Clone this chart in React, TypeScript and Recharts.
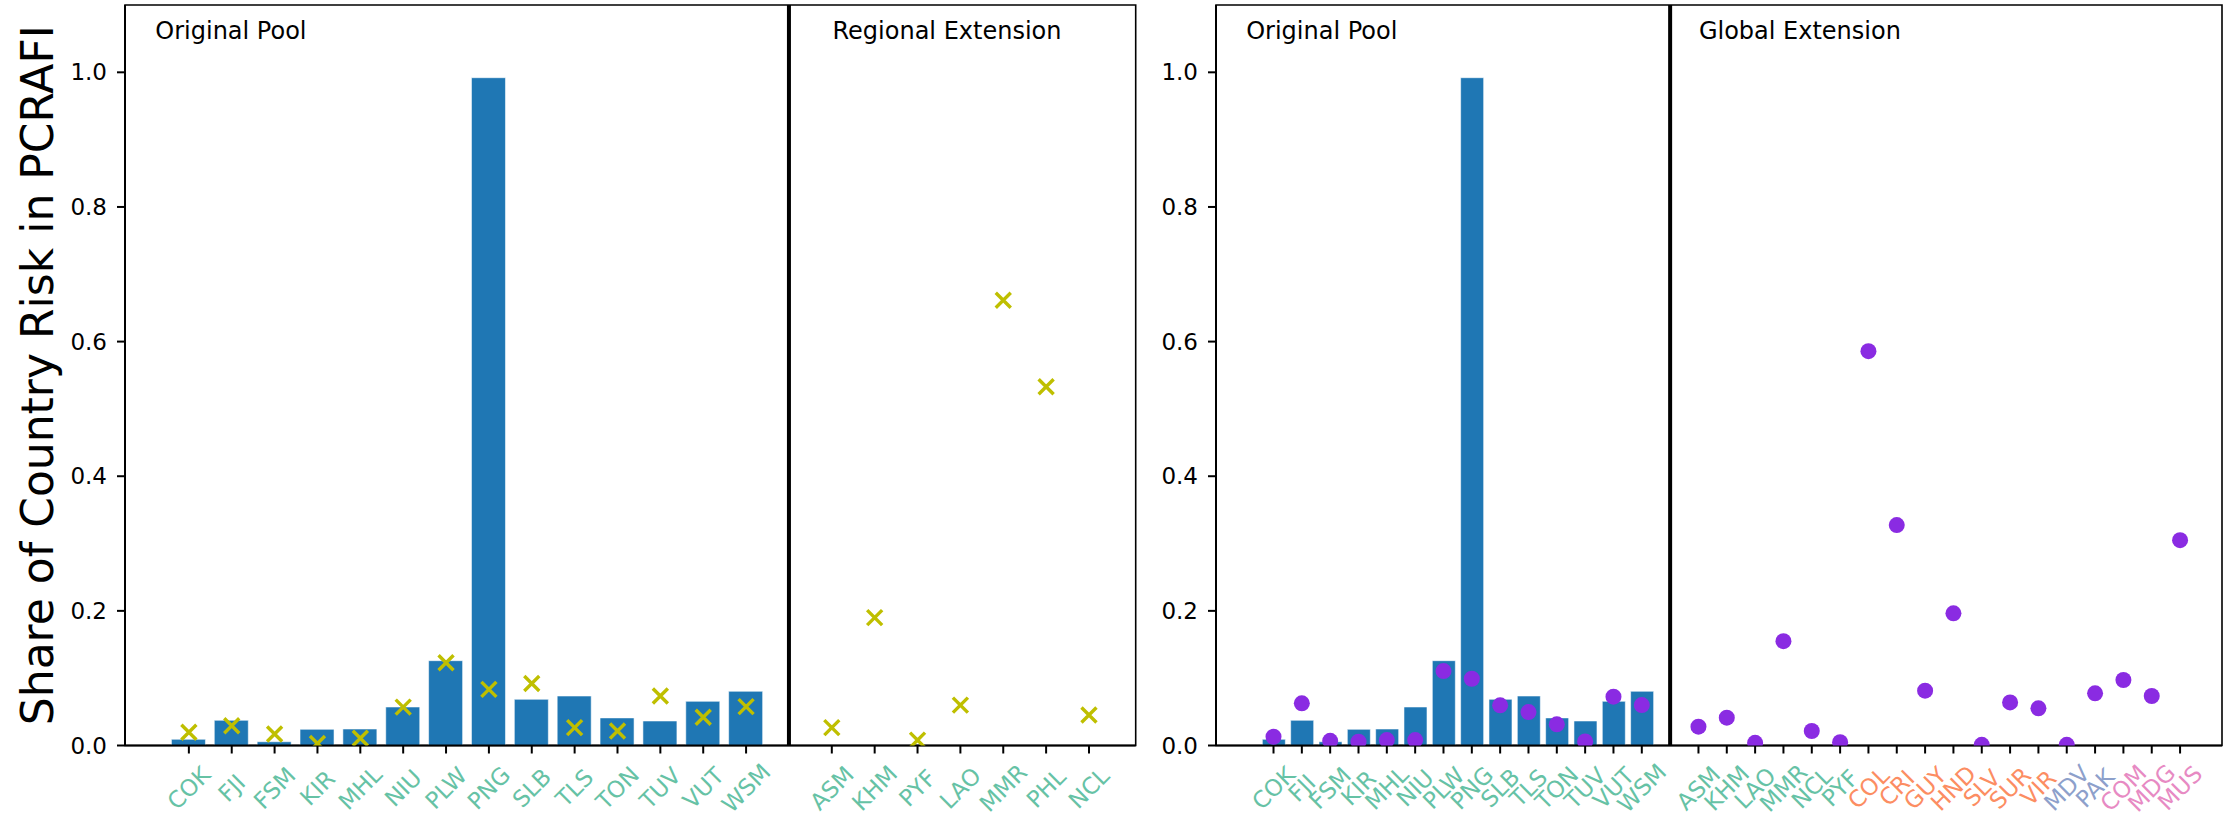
import React from 'react';
import {
  ComposedChart,
  Bar,
  Scatter,
  XAxis,
  YAxis,
  ReferenceLine,
  ReferenceArea,
  ReferenceDot,
} from 'recharts';

// original PCRAFI pool (bars, same in both panels)
const poolNames = ['COK', 'FJI', 'FSM', 'KIR', 'MHL', 'NIU', 'PLW', 'PNG', 'SLB', 'TLS', 'TON', 'TUV', 'VUT', 'WSM'];
const poolShare = [0.0092, 0.0374, 0.0056, 0.024, 0.0245, 0.0572, 0.126, 0.992, 0.0686, 0.0735, 0.041, 0.0364, 0.0656, 0.0805];

// regional extension (crosses)
const regionalPoolShare = [0.0196, 0.0294, 0.017, 0.003, 0.0107, 0.057, 0.123, 0.0834, 0.092, 0.0265, 0.0215, 0.0735, 0.042, 0.0577];
const regionalNames = ['ASM', 'KHM', 'PYF', 'LAO', 'MMR', 'PHL', 'NCL'];
const regionalShare = [0.0265, 0.19, 0.008, 0.06, 0.6615, 0.533, 0.0453];

// global extension (dots)
const globalPoolShare = [0.013, 0.0626, 0.007, 0.0057, 0.008, 0.008, 0.1106, 0.0992, 0.0597, 0.0497, 0.0314, 0.006, 0.0725, 0.06];
const globalNames = ['ASM', 'KHM', 'LAO', 'MMR', 'NCL', 'PYF', 'COL', 'CRI', 'GUY', 'HND', 'SLV', 'SUR', 'VIR', 'MDV', 'PAK', 'COM', 'MDG', 'MUS'];
const globalShare = [0.028, 0.0413, 0.004, 0.155, 0.0215, 0.005, 0.5857, 0.3274, 0.0814, 0.1963, 0.001, 0.064, 0.0552, 0.001, 0.0775, 0.0973, 0.0735, 0.305];
const globalRegion = ['pac', 'pac', 'pac', 'pac', 'pac', 'pac', 'am', 'am', 'am', 'am', 'am', 'am', 'am', 'asia', 'asia', 'af', 'af', 'af'];

const yTicks = [0, 0.2, 0.4, 0.6, 0.8, 1.0];

const regionColor: Record<string, string> = {
  pac: '#66c2a5',
  am: '#fc8d62',
  asia: '#8da0cb',
  af: '#e78ac3',
};

const FONT = 'DejaVu Sans';
const GAP = poolNames.length; // empty slot holding the separator line

function buildPanel(extNames: string[], poolMarks: number[], extMarks: number[], extColors: string[]) {
  const names: Record<number, string> = {};
  const colors: Record<number, string> = {};
  const bars = poolNames.map((n, i) => {
    names[i] = n;
    colors[i] = regionColor.pac;
    return { x: i, share: poolShare[i] };
  });
  const marks = poolMarks.map((v, i) => ({ x: i, share: v }));
  extNames.forEach((n, j) => {
    const x = GAP + 1 + j;
    names[x] = n;
    colors[x] = extColors[j];
    marks.push({ x, share: extMarks[j] });
  });
  const ticks = Object.keys(names).map(Number);
  return { names, colors, bars, marks, ticks };
}

const left = buildPanel(regionalNames, regionalPoolShare, regionalShare, regionalNames.map(() => regionColor.pac));
const right = buildPanel(globalNames, globalPoolShare, globalShare, globalRegion.map((r) => regionColor[r]));

function makeTick(names: Record<number, string>, colors: Record<number, string>) {
  return (props: any) => {
    const { x, y, payload } = props;
    const cy = y + 34.5;
    return (
      <text
        x={x}
        y={cy}
        textAnchor="middle"
        dominantBaseline="central"
        transform={`rotate(-45 ${x} ${cy})`}
        fill={colors[payload.value]}
        fontSize={23}
        fontFamily={FONT}
      >
        {names[payload.value]}
      </text>
    );
  };
}

const Cross = (props: any) => {
  const { cx, cy } = props;
  const s = 7.5;
  return (
    <path
      d={`M${cx - s},${cy - s}L${cx + s},${cy + s}M${cx - s},${cy + s}L${cx + s},${cy - s}`}
      stroke="#bfbf00"
      strokeWidth={3.4}
      fill="none"
    />
  );
};

const Dot = (props: any) => <circle cx={props.cx} cy={props.cy} r={8} fill="#8a2be2" />;

function annot(text: string) {
  return (p: any) => (
    <text x={p.cx} y={p.cy} fontSize={24} fontFamily={FONT} fill="#000">
      {text}
    </text>
  );
}

interface PanelProps {
  panel: typeof left;
  domain: [number, number];
  width: number;
  yWidth: number;
  marginRight: number;
  barSize: number;
  mark: 'cross' | 'dot';
  extLabel: string;
  extFrac: number;
  yLabel?: string;
}

function Panel({ panel, domain, width, yWidth, marginRight, barSize, mark, extLabel, extFrac, yLabel }: PanelProps) {
  const span = domain[1] - domain[0];
  return (
    <ComposedChart
      width={width}
      height={817}
      data={panel.bars}
      margin={{ top: 5, right: marginRight, bottom: 0, left: 0 }}
    >
      <XAxis
        dataKey="x"
        type="number"
        domain={domain}
        allowDataOverflow
        ticks={panel.ticks}
        interval={0}
        height={71.5}
        tickSize={8}
        tickMargin={0}
        tickLine={{ stroke: '#000', strokeWidth: 2 }}
        axisLine={{ stroke: '#000', strokeWidth: 2 }}
        tick={makeTick(panel.names, panel.colors)}
      />
      <YAxis
        type="number"
        domain={[0, 1.1]}
        allowDataOverflow
        ticks={yTicks}
        width={yWidth}
        tickSize={8}
        tickMargin={10}
        tickFormatter={(v: number) => v.toFixed(1)}
        tick={{ fill: '#000', fontSize: 23, fontFamily: FONT }}
        tickLine={{ stroke: '#000', strokeWidth: 2 }}
        axisLine={{ stroke: '#000', strokeWidth: 2 }}
        label={
          yLabel
            ? {
                value: yLabel,
                angle: -90,
                position: 'insideLeft',
                offset: 37,
                style: { textAnchor: 'middle', fontSize: 44, fontFamily: FONT, fill: '#000' },
              }
            : undefined
        }
      />
      <ReferenceArea
        x1={domain[0]}
        x2={domain[1]}
        y1={0}
        y2={1.1}
        fill="none"
        stroke="#000"
        strokeWidth={1.6}
        ifOverflow="visible"
      />
      <Bar
        dataKey="share"
        fill="#1f77b4"
        stroke="#ffffff"
        strokeOpacity={0.55}
        strokeWidth={1}
        barSize={barSize}
        isAnimationActive={false}
      />
      <Scatter
        data={panel.marks}
        dataKey="share"
        shape={mark === 'cross' ? Cross : Dot}
        isAnimationActive={false}
      />
      <ReferenceLine x={GAP} stroke="#000" strokeWidth={4} />
      <ReferenceDot
        x={domain[0] + 0.03 * span}
        y={1.049}
        r={1}
        ifOverflow="visible"
        shape={annot('Original Pool')}
      />
      <ReferenceDot
        x={domain[0] + extFrac * span}
        y={1.049}
        r={1}
        ifOverflow="visible"
        shape={annot(extLabel)}
      />
    </ComposedChart>
  );
}

export default function App() {
  return (
    <div style={{ position: 'absolute', left: 0, top: 0, width: 2225, height: 817, background: '#fff' }}>
      <div style={{ position: 'absolute', left: 0, top: 0 }}>
        <Panel
          panel={left}
          domain={[-1.49, 22.09]}
          width={1140}
          yWidth={125}
          marginRight={4.3}
          barSize={34}
          mark="cross"
          extLabel="Regional Extension"
          extFrac={0.7}
          yLabel="Share of Country Risk in PCRAFI"
        />
      </div>
      <div style={{ position: 'absolute', left: 1140, top: 0 }}>
        <Panel
          panel={right}
          domain={[-2.03, 33.48]}
          width={1085}
          yWidth={76}
          marginRight={3}
          barSize={23}
          mark="dot"
          extLabel="Global Extension"
          extFrac={0.48}
        />
      </div>
    </div>
  );
}
